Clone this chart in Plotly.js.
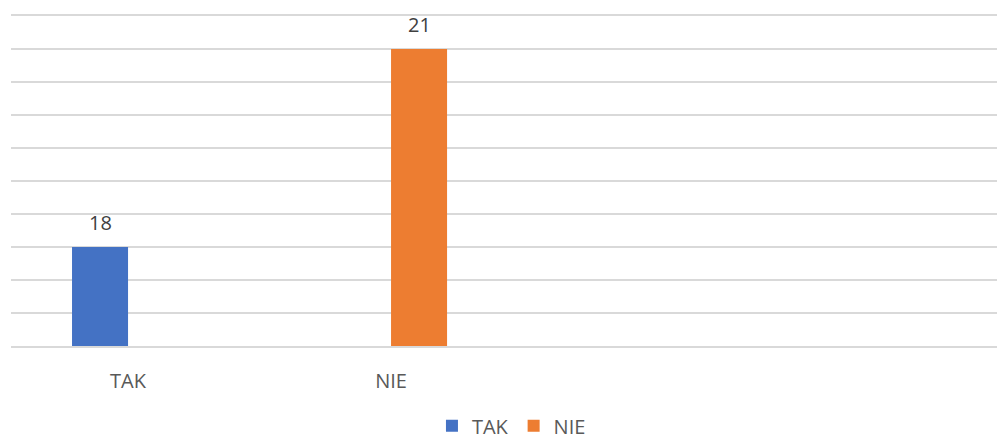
<!DOCTYPE html>
<html>
<head>
<meta charset="utf-8">
<script src="https://cdn.plot.ly/plotly-3.0.1.min.js"></script>
<style>
html,body{margin:0;padding:0;background:#fff;}
#chart{width:997px;height:439px;}
</style>
</head>
<body>
<div id="chart"></div>
<script>
const categories = ["TAK", "NIE"];
const seriesNames = ["TAK", "NIE"];
const takValues = [18, null];
const nieValues = [null, 21];
const colors = ["#4472C4", "#ED7D31"];

const font = '"Open Sans", "Noto Sans", sans-serif';
const BARGAP = 0.574;
const barW = (1 - BARGAP) / 2;

const series = [takValues, nieValues];
const traces = series.map((vals, s) => ({
  type: "bar", name: seriesNames[s], x: categories, y: vals,
  marker: {color: colors[s]},
  hoverinfo: "none"
}));

// data labels above each bar (bar centre within its group)
const annotations = [];
series.forEach((vals, s) => {
  vals.forEach((v, i) => {
    if (v == null) return;
    annotations.push({
      x: i + (s - 0.5) * barW, y: v, xref: "x", yref: "y",
      text: String(v), showarrow: false,
      yanchor: "bottom", yshift: 9,
      font: {family: font, size: 20, color: "#404040"}
    });
  });
});

const layout = {
  width: 997, height: 439,
  margin: {l: 11, r: 0, t: 16, b: 93, autoexpand: false},
  paper_bgcolor: "#fff", plot_bgcolor: "#fff",
  barmode: "group",
  bargap: BARGAP,
  bargroupgap: 0,
  showlegend: true,
  font: {family: font, size: 20, color: "#595959"},
  annotations: annotations,
  xaxis: {
    type: "category",
    range: [-0.445, 3.304],
    showgrid: false, zeroline: false,
    showline: true, mirror: true, linecolor: "#d9d9d9", linewidth: 2,
    ticks: "", ticklabelstandoff: 16,
    tickfont: {family: font, size: 20, color: "#595959"},
    fixedrange: true
  },
  yaxis: {
    range: [16.5, 21.5],
    dtick: 0.5, tick0: 16.5,
    showgrid: true, gridcolor: "#d9d9d9", gridwidth: 2,
    zeroline: false, showline: false,
    showticklabels: false, ticks: "",
    fixedrange: true
  },
  legend: {
    orientation: "h",
    xref: "container", yref: "container",
    x: 0.513, xanchor: "center",
    y: 0.03, yanchor: "middle",
    font: {family: font, size: 20, color: "#595959"},
    itemwidth: 30,
    bgcolor: "rgba(0,0,0,0)"
  }
};

Plotly.newPlot("chart", traces, layout, {staticPlot: true, displayModeBar: false});
</script>
</body>
</html>
